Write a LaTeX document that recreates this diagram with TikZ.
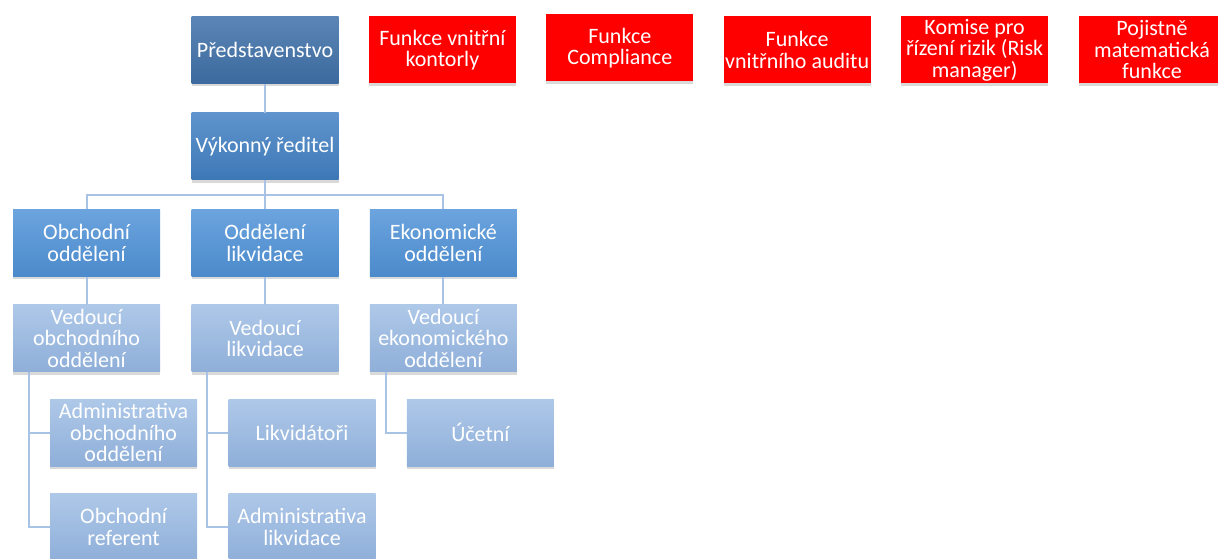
\documentclass[tikz,border=0pt]{standalone}
\usepackage{fontspec}
\setmainfont{Carlito}
\usepackage{tikz}
\usetikzlibrary{arrows}
\usetikzlibrary{positioning}
\usetikzlibrary{shadows}
\definecolor{predtop}{HTML}{5B85B5}
\definecolor{predbot}{HTML}{3C6A9E}
\definecolor{vyktop}{HTML}{5F94CD}
\definecolor{vykbot}{HTML}{3D78B6}
\definecolor{oddtop}{HTML}{6CA4DE}
\definecolor{oddbot}{HTML}{4B8ACB}
\definecolor{subtop}{HTML}{AEC8E8}
\definecolor{subbot}{HTML}{8FAFD9}
\definecolor{linka}{HTML}{A9C3E6}
\tikzset{>=latex}
\tikzset{
  box/.style={rectangle, minimum width=147pt, minimum height=67pt, inner xsep=1pt, inner ysep=2pt,
    align=center, text=white, font=\fontsize{22}{21.5}\selectfont,
    drop shadow={shadow xshift=0pt, shadow yshift=-3pt, opacity=0.3}},
  predbox/.style={box, top color=predtop, bottom color=predbot},
  vykbox/.style={box, top color=vyktop, bottom color=vykbot},
  oddbox/.style={box, top color=oddtop, bottom color=oddbot},
  subbox/.style={box, top color=subtop, bottom color=subbot},
  redbox/.style={box, fill=red},
  conn/.style={draw=linka, line width=2pt}
}
\begin{document}
\begin{tikzpicture}[node distance=29pt]
  \useasboundingbox (0,0) rectangle (1218pt,-559pt);
  \node [predbox] (pred) at (265pt,-50pt) {Představenstvo};
  \node [vykbox, below=of pred] (vyk) {Výkonný ředitel};
  \node [oddbox, below=of vyk] (likv) {Oddělení\\likvidace};
  \node [oddbox, left=31pt of likv] (obch) {Obchodní\\oddělení};
  \node [oddbox, right=31pt of likv] (ekon) {Ekonomické\\oddělení};
  \node [subbox, below=28pt of obch] (vedob) {Vedoucí\\obchodního\\oddělení};
  \node [subbox, below=28pt of likv] (vedlikv) {Vedoucí\\likvidace};
  \node [subbox, below=28pt of ekon] (vedek) {Vedoucí\\ekonomického\\oddělení};
  \node [subbox, below=27pt of vedob, xshift=37pt] (admob) {Administrativa\\obchodního\\oddělení};
  \node [subbox, below=27pt of admob] (ref) {Obchodní\\referent};
  \node [subbox, below=27pt of vedlikv, xshift=37pt] (likvid) {Likvidátoři};
  \node [subbox, below=27pt of likvid] (admlikv) {Administrativa\\likvidace};
  \node [subbox, below=27pt of vedek, xshift=37pt] (ucet) {Účetní};

  \node [redbox, right=30pt of pred] (kontr) {Funkce vnitřní\\kontorly};
  \node [redbox, right=30pt of kontr, yshift=2pt] (compl) {Funkce\\Compliance};
  \node [redbox, right=30pt of compl, yshift=-2pt] (audit) {Funkce\\vnitřního auditu};
  \node [redbox, right=30pt of audit] (risk) {Komise pro\\řízení rizik (Risk\\manager)};
  \node [redbox, right=30pt of risk] (pojist) {Pojistně\\matematická\\funkce};

  \draw [conn] (pred) -- (vyk);
  \draw [conn] (vyk.south) -- ++(0,-15pt) coordinate (bar);
  \draw [conn] (obch.north) |- (bar) -| (ekon.north);
  \draw [conn] (bar) -- (likv.north);
  \draw [conn] (obch) -- (vedob);
  \draw [conn] (likv) -- (vedlikv);
  \draw [conn] (ekon) -- (vedek);
  \draw [conn] ([xshift=16pt]vedob.south west) |- (admob.west);
  \draw [conn] ([xshift=16pt]vedob.south west) |- (ref.west);
  \draw [conn] ([xshift=16pt]vedlikv.south west) |- (likvid.west);
  \draw [conn] ([xshift=16pt]vedlikv.south west) |- (admlikv.west);
  \draw [conn] ([xshift=16pt]vedek.south west) |- (ucet.west);
\end{tikzpicture}
\end{document}
